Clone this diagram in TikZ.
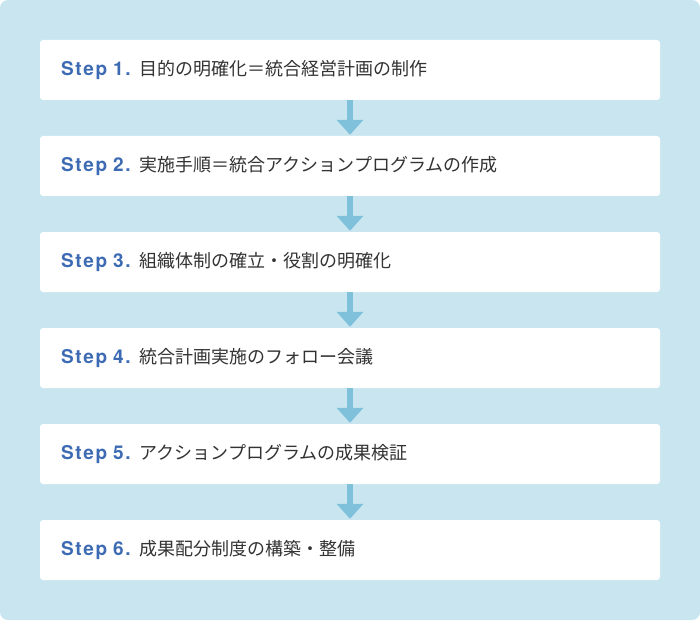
\documentclass[tikz,border=0pt]{standalone}
\usepackage{fontspec}
\setmainfont{TeX Gyre Heros}
\newfontfamily\jpfont{Noto Sans CJK JP}
\newfontfamily\stepfont[LetterSpace=9]{TeX Gyre Heros}
\usetikzlibrary{arrows.meta}
\definecolor{panelblue}{HTML}{C9E6F0}
\definecolor{arrowblue}{HTML}{7FC1DA}
\definecolor{stepblue}{HTML}{3D6BB3}
\definecolor{textgray}{HTML}{333333}

\begin{document}
\begin{tikzpicture}[
    x=1pt,
    y=-1pt,
    panel/.style={fill=panelblue, rounded corners=8pt},
    stepbox/.style={fill=white, rounded corners=3pt, minimum width=620pt,
      minimum height=60pt, text width=578pt, inner xsep=21pt, align=left,
      inner ysep=0pt, font=\jpfont\fontsize{18pt}{20pt}\selectfont, text=textgray},
    flow/.style={draw=arrowblue, line width=6pt,
      -{Triangle[width=26pt, length=15pt]}}
  ]
    \useasboundingbox (0,0) rectangle (700,620);
    \fill[panel] (0,0) rectangle (700,620);

    \foreach \i/\txt in {1/目的の明確化＝統合経営計画の制作,
                         2/実施手順＝統合アクションプログラムの作成,
                         3/組織体制の確立・役割の明確化,
                         4/統合計画実施のフォロー会議,
                         5/アクションプログラムの成果検証,
                         6/成果配分制度の構築・整備} {
      \node[stepbox] (step\i) at (350,{70+96*(\i-1)})
        {{\stepfont\bfseries\fontsize{19pt}{20pt}\selectfont\color{stepblue}Step \i.}\hspace{9pt}\txt};
    }

    \foreach \i [evaluate=\i as \j using int(\i+1)] in {1,...,5} {
      \draw[flow] (step\i.south) -- ([yshift=1pt]step\j.north);
    }
  \end{tikzpicture}
\end{document}
